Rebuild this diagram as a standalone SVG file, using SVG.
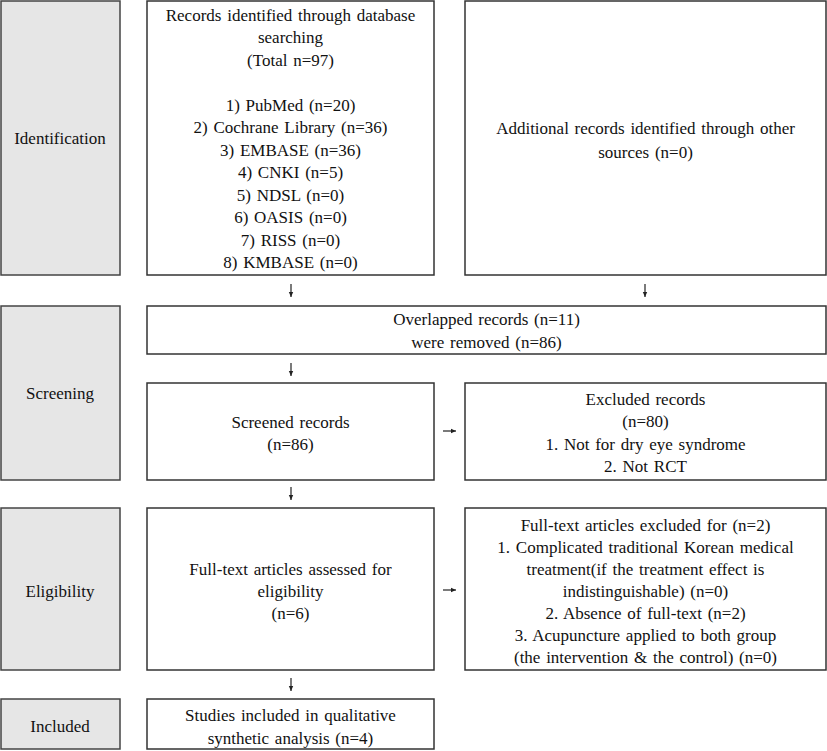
<svg xmlns="http://www.w3.org/2000/svg" width="827" height="751" viewBox="0 0 827 751">
<defs>
<marker id="ah" markerWidth="6" markerHeight="6" refX="5" refY="3" orient="auto" markerUnits="userSpaceOnUse">
<path d="M0,0.8 L5,3 L0,5.2 Z" fill="#222"/>
</marker>
<style>
.lab{fill:#e6e6e6;stroke:#444;stroke-width:1.5}
.box{fill:#fff;stroke:#333;stroke-width:1.5}
text{font-family:"Liberation Serif","DejaVu Serif",serif;font-size:17px;fill:#111;text-anchor:middle;word-spacing:1.5px}
.con{stroke:#222;stroke-width:1.2;fill:none;marker-end:url(#ah)}
</style>
</defs>
<rect width="827" height="751" fill="#fff"/>
<g id="identification"><rect class="lab" x="1" y="1" width="119" height="274"/><text x="60" y="144">Identification</text></g>
<g id="screening"><rect class="lab" x="1" y="306" width="119" height="174"/><text x="60" y="399">Screening</text></g>
<g id="eligibility"><rect class="lab" x="1" y="508" width="119" height="162"/><text x="60" y="597">Eligibility</text></g>
<g id="included"><rect class="lab" x="1" y="699" width="119" height="50"/><text x="60" y="732">Included</text></g>

<g id="records"><rect class="box" x="147" y="1" width="287" height="274"/>
<text x="290.5" y="21">Records identified through database</text>
<text x="290.5" y="43">searching</text>
<text x="290.5" y="66">(Total n=97)</text>
<text x="290.5" y="111">1) PubMed (n=20)</text>
<text x="290.5" y="133">2) Cochrane Library (n=36)</text>
<text x="290.5" y="156">3) EMBASE (n=36)</text>
<text x="290.5" y="178">4) CNKI (n=5)</text>
<text x="290.5" y="201">5) NDSL (n=0)</text>
<text x="290.5" y="223">6) OASIS (n=0)</text>
<text x="290.5" y="246">7) RISS (n=0)</text>
<text x="290.5" y="268">8) KMBASE (n=0)</text>
</g>
<g id="additional"><rect class="box" x="465" y="1" width="361" height="274"/>
<text x="645.5" y="134">Additional records identified through other</text>
<text x="645.5" y="158">sources (n=0)</text>
</g>
<g id="overlapped"><rect class="box" x="147" y="306" width="679" height="48"/>
<text x="486.5" y="325">Overlapped records (n=11)</text>
<text x="486.5" y="348">were removed (n=86)</text>
</g>
<g id="screened"><rect class="box" x="147" y="383" width="287" height="97"/>
<text x="290.5" y="428">Screened records</text>
<text x="290.5" y="450">(n=86)</text>
</g>
<g id="excluded"><rect class="box" x="465" y="383" width="361" height="97"/>
<text x="645.5" y="405">Excluded records</text>
<text x="645.5" y="427">(n=80)</text>
<text x="645.5" y="450">1. Not for dry eye syndrome</text>
<text x="645.5" y="472">2. Not RCT</text>
</g>
<g id="fulltext"><rect class="box" x="147" y="508" width="287" height="162"/>
<text x="290.5" y="575">Full-text articles assessed for</text>
<text x="290.5" y="597">eligibility</text>
<text x="290.5" y="619">(n=6)</text>
</g>
<g id="fulltext-excluded"><rect class="box" x="465" y="508" width="361" height="162"/>
<text x="645.5" y="531">Full-text articles excluded for (n=2)</text>
<text x="645.5" y="553">1. Complicated traditional Korean medical</text>
<text x="645.5" y="575">treatment(if the treatment effect is</text>
<text x="645.5" y="597">indistinguishable) (n=0)</text>
<text x="645.5" y="619">2. Absence of full-text (n=2)</text>
<text x="645.5" y="641">3. Acupuncture applied to both group</text>
<text x="645.5" y="663">(the intervention &amp; the control) (n=0)</text>
</g>
<g id="studies"><rect class="box" x="147" y="699" width="287" height="50"/>
<text x="290.5" y="721">Studies included in qualitative</text>
<text x="290.5" y="744">synthetic analysis (n=4)</text>
</g>
<g id="connectors">
<line class="con" x1="291" y1="284" x2="291" y2="297"/>
<line class="con" x1="645" y1="284" x2="645" y2="297"/>
<line class="con" x1="291" y1="363" x2="291" y2="376"/>
<line class="con" x1="291" y1="487" x2="291" y2="500"/>
<line class="con" x1="443" y1="431" x2="456" y2="431"/>
<line class="con" x1="443" y1="590" x2="456" y2="590"/>
<line class="con" x1="291" y1="678" x2="291" y2="691"/>
</g>
</svg>
